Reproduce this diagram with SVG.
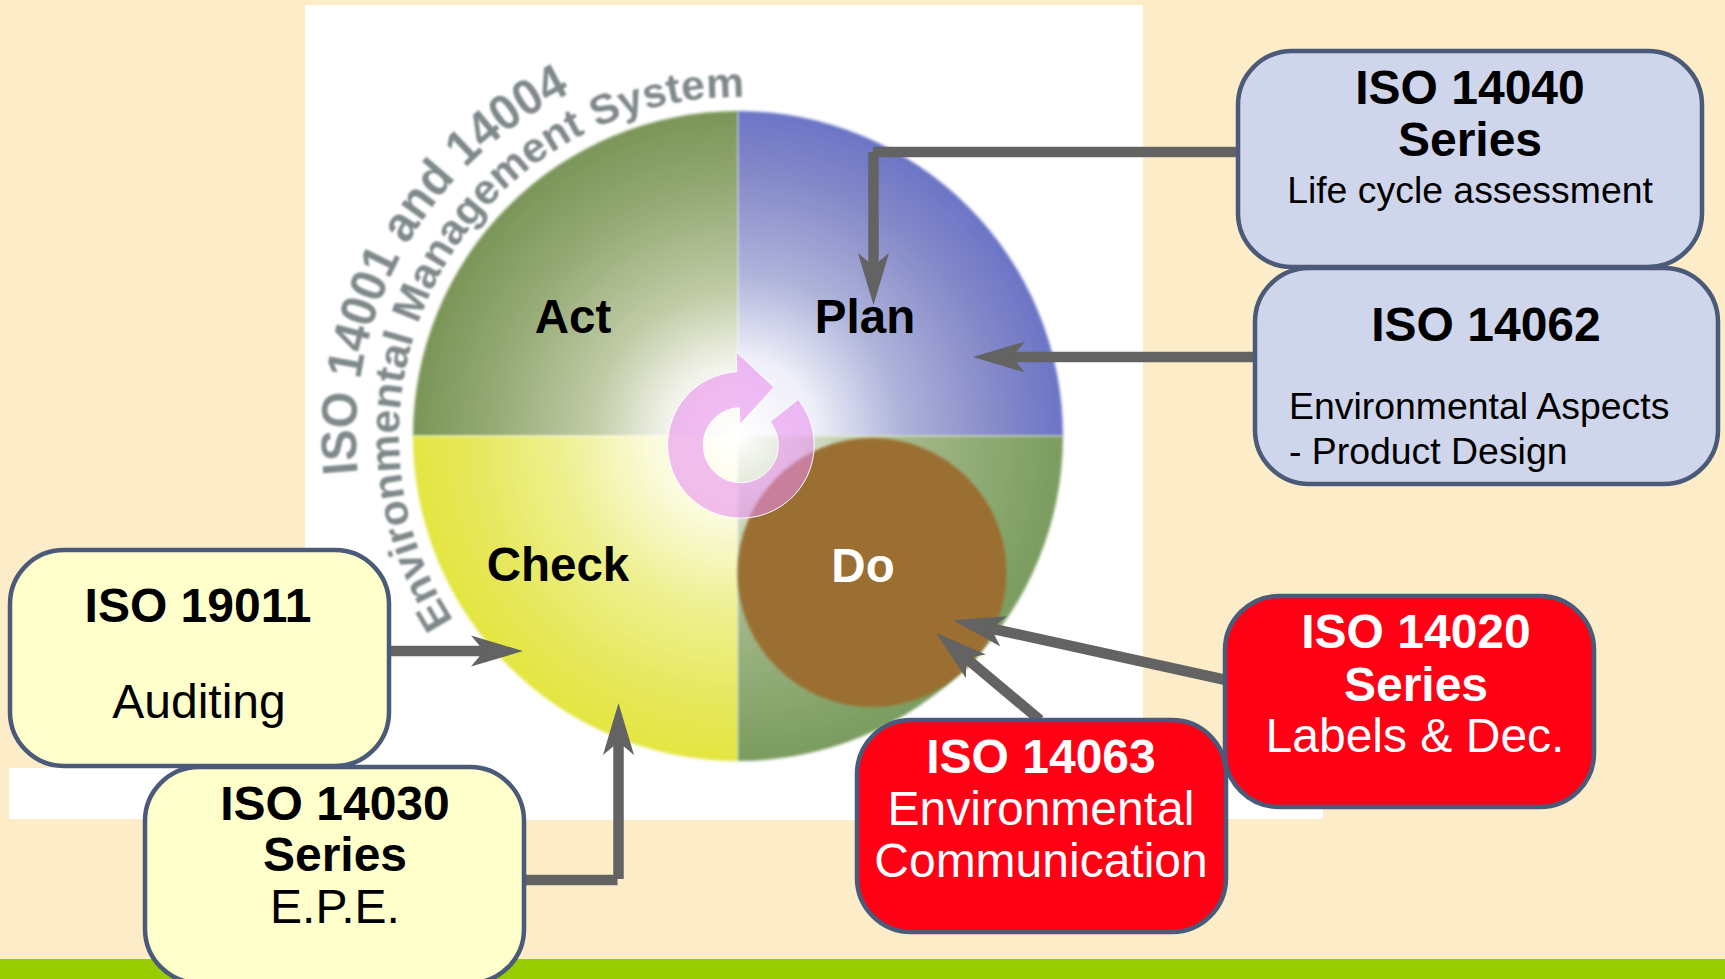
<svg xmlns="http://www.w3.org/2000/svg" width="1725" height="979" viewBox="0 0 1725 979">
<style>
text{font-family:"Liberation Sans",Arial,sans-serif}
.h{font-size:48px;font-weight:700;text-anchor:middle;fill:#000}
.b{font-size:48px;text-anchor:middle;fill:#000}
.s{font-size:37.400px;fill:#000}
.w{fill:#fff}
.q{font-size:47.500px;font-weight:700;text-anchor:middle;fill:#000}
.box{stroke:#4a5a78;stroke-width:4.500}
.blue{fill:#cfd5ea}.yel{fill:#ffffcc}.red{fill:#ff0015}
.cv{font-weight:700;fill:#7f888a}
.c{fill:none;stroke:#636363;stroke-width:10.500;stroke-linecap:butt}
</style>
<defs>
<marker id="a" markerUnits="userSpaceOnUse" markerWidth="54" markerHeight="34" viewBox="0 -16 54 32" refX="13" refY="0" orient="auto"><path d="M0,-15.500L52,0L0,15.500L13,0Z" fill="#636363"/></marker>
<filter id="bl" x="-5%" y="-5%" width="110%" height="110%"><feGaussianBlur stdDeviation="1.800"/></filter>
<filter id="bt" x="-5%" y="-5%" width="110%" height="110%"><feGaussianBlur stdDeviation="1.300"/></filter>
<radialGradient id="gA" gradientUnits="userSpaceOnUse" cx="738" cy="436" r="325"><stop offset="0" stop-color="#fff"/><stop offset=".22" stop-color="#f2f3ea"/><stop offset=".45" stop-color="#c0cba5"/><stop offset=".75" stop-color="#95aa75"/><stop offset="1" stop-color="#7a9558"/></radialGradient>
<radialGradient id="gP" gradientUnits="userSpaceOnUse" cx="738" cy="436" r="325"><stop offset="0" stop-color="#fff"/><stop offset=".24" stop-color="#eeeff8"/><stop offset=".5" stop-color="#aeb3da"/><stop offset=".8" stop-color="#8589c8"/><stop offset="1" stop-color="#6b75c6"/></radialGradient>
<radialGradient id="gC" gradientUnits="userSpaceOnUse" cx="738" cy="436" r="325"><stop offset="0" stop-color="#fff"/><stop offset=".25" stop-color="#fbfbdf"/><stop offset=".55" stop-color="#eef08e"/><stop offset=".8" stop-color="#e6e860"/><stop offset="1" stop-color="#e3e540"/></radialGradient>
<radialGradient id="gD" gradientUnits="userSpaceOnUse" cx="738" cy="436" r="325"><stop offset="0" stop-color="#fff"/><stop offset=".45" stop-color="#a9bd90"/><stop offset="1" stop-color="#7a9c5e"/></radialGradient>
<path id="p1" d="M357.800,473.300A382,382 0 0 1 738,54"/>
<path id="p2" d="M453.700,620.600A339,339 0 0 1 744,97"/>
</defs>
<rect id="background" width="1725" height="979" fill="#fcedc8"/>
<rect x="0" y="959" width="1725" height="20" fill="#99cc00"/>
<g id="picture">
<rect x="305" y="5" width="838" height="815" fill="#fff"/>
<rect x="9" y="768" width="1314" height="51" fill="#fff"/>
<g filter="url(#bt)">
<text class="cv" font-size="50"><textPath href="#p1" textLength="464" lengthAdjust="spacingAndGlyphs">ISO 14001 and 14004</textPath></text>
<text class="cv" font-size="42"><textPath href="#p2" textLength="734" lengthAdjust="spacingAndGlyphs">Environmental Management System</textPath></text>
</g>
</g>
<g id="act"><path d="M738,436V111A325,325 0 0 0 413,436Z" fill="url(#gA)" filter="url(#bl)"/></g>
<g id="plan"><path d="M738,436V111A325,325 0 0 1 1063,436Z" fill="url(#gP)" filter="url(#bl)"/></g>
<g id="check"><path d="M738,436H413A325,325 0 0 0 738,761Z" fill="url(#gC)" filter="url(#bl)"/></g>
<g id="do"><path d="M738,436V761A325,325 0 0 0 1063,436Z" fill="url(#gD)" filter="url(#bl)"/><circle cx="872" cy="572.500" r="134.500" fill="#9b6e30" filter="url(#bl)"/></g>
<g id="cycle"><path d="M798.300,399.300A73.300,73.300 0 1 1 736.700,371.700L736,351.700L774,387.300L740,424.300L739.300,407.700A37.500,37.500 0 1 0 770,421.700Z" fill="#e98ced" fill-opacity=".57" stroke="#fff" stroke-width="1"/></g>
<g id="labels">
<text class="q" x="573" y="333">Act</text>
<text class="q" x="865" y="333">Plan</text>
<text class="q" x="558" y="581">Check</text>
<text class="q" x="863" y="582" style="fill:#fff">Do</text>
</g>
<g id="connectors">
<line class="c" x1="1240" y1="152" x2="873" y2="152"/>
<line class="c" x1="873.500" y1="152" x2="873.500" y2="266" marker-end="url(#a)"/>
<line class="c" x1="1256" y1="357" x2="1012" y2="357" marker-end="url(#a)"/>
<line class="c" x1="388" y1="651" x2="484" y2="651" marker-end="url(#a)"/>
<line class="c" x1="524" y1="880" x2="617.500" y2="880"/>
<line class="c" x1="618.500" y1="879" x2="618.500" y2="742" marker-end="url(#a)"/>
<line class="c" x1="1226" y1="680" x2="991" y2="628.500" marker-end="url(#a)"/>
<line class="c" x1="1040" y1="720" x2="966" y2="658" marker-end="url(#a)"/>
</g>
<g id="iso14040"><rect class="box blue" x="1238" y="51" width="464" height="216" rx="54"/>
<text class="h" x="1470" y="104">ISO 14040</text><text class="h" x="1470" y="156">Series</text><text class="s" x="1470" y="203" text-anchor="middle">Life cycle assessment</text></g>
<g id="iso14062"><rect class="box blue" x="1255" y="268" width="463" height="216" rx="54"/>
<text class="h" x="1486" y="341">ISO 14062</text><text class="s" x="1289" y="419">Environmental Aspects</text><text class="s" x="1289" y="464">- Product Design</text></g>
<g id="iso19011"><rect class="box yel" x="10" y="550" width="379" height="216" rx="54"/>
<text class="h" x="198" y="622">ISO 19011</text><text class="b" x="199" y="718">Auditing</text></g>
<g id="iso14030"><rect class="box yel" x="145" y="767" width="379" height="216" rx="54"/>
<text class="h" x="335" y="820">ISO 14030</text><text class="h" x="335" y="871">Series</text><text class="b" x="335" y="923">E.P.E.</text></g>
<g id="iso14020"><rect class="box red" x="1225" y="596" width="369" height="211" rx="54"/>
<text class="h" style="fill:#fff" x="1416" y="648">ISO 14020</text><text class="h" style="fill:#fff" x="1416" y="701">Series</text><text class="b" style="fill:#fff" x="1415" y="752">Labels &amp; Dec.</text></g>
<g id="iso14063"><rect class="box red" x="857" y="720" width="369" height="212" rx="54"/>
<text class="h" style="fill:#fff" x="1041" y="773">ISO 14063</text><text class="b" style="fill:#fff" x="1041" y="825">Environmental</text><text class="b" style="fill:#fff" x="1041" y="877">Communication</text></g>
</svg>
